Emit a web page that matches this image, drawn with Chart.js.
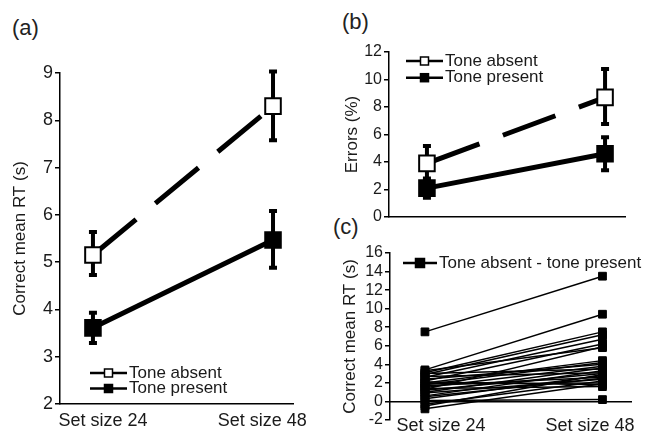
<!DOCTYPE html>
<html>
<head>
<meta charset="utf-8">
<script src="https://cdn.jsdelivr.net/npm/chart.js@4"></script>
<style>
  body { margin: 0; background: #fff; }
  #wrap { position: relative; width: 652px; height: 433px; font-family: 'Liberation Sans', Arial, sans-serif; color: #222; }
  .panel { position: absolute; }
  .tag { position: absolute; font-size: 22px; line-height: 24px; }
</style>
</head>
<body>
<div id="wrap">
  <div class="tag" style="left:12px;top:16px">(a)</div>
  <div class="tag" style="left:342px;top:10px">(b)</div>
  <div class="tag" style="left:333px;top:215px">(c)</div>
  <div class="panel" style="left:0;top:0"><canvas id="chartA" width="330" height="433"></canvas></div>
  <div class="panel" style="left:330px;top:0"><canvas id="chartB" width="322" height="230"></canvas></div>
  <div class="panel" style="left:330px;top:220px"><canvas id="chartC" width="322" height="213"></canvas></div>
</div>
<script>
// categories
const setSizes = ['Set size 24', 'Set size 48'];
const xPos = [0, 1];

// (a) correct mean RT (s)
const rtAbsent = [5.15, 8.3];
const rtAbsentLow = [4.73, 7.58];
const rtAbsentHigh = [5.64, 9.03];
const rtPresent = [3.61, 5.47];
const rtPresentLow = [3.29, 4.88];
const rtPresentHigh = [3.93, 6.08];

// (b) errors (%)
const errAbsent = [3.9, 8.7];
const errAbsentLow = [2.65, 6.76];
const errAbsentHigh = [5.16, 10.76];
const errPresent = [2.1, 4.6];
const errPresentLow = [1.4, 3.4];
const errPresentHigh = [2.8, 5.8];

// (c) per subject difference, tone absent - tone present (s)
const diff24 = [7.5, 3.4, 3.1, 2.9, 2.6, 3.3, 2.2, 1.3, 2.0, 1.8, 2.4, 1.5, 1.0, 0.6, 2.7, 1.2, 0.3, 1.7, 0.9, -0.3, -0.8, 2.1, 1.4, 0.1, 3.0, -0.5, 0.5, 1.9];
const diff48 = [13.5, 9.4, 7.5, 7.2, 6.7, 5.8, 6.2, 5.9, 4.4, 4.2, 4.0, 3.8, 3.6, 3.3, 3.1, 3.0, 2.8, 2.6, 2.4, 2.2, 1.9, 1.8, 1.6, 0.2, 3.5, 2.9, 2.5, 2.0];
const diffLabel = 'Tone absent - tone present';

const fontFamily = "'Liberation Sans', Arial, sans-serif";
const ink = '#1a1a1a';

const errorBars = {
  id: 'errorBars',
  beforeDatasetsDraw(chart) {
    const { ctx, scales: { x, y } } = chart;
    chart.data.datasets.forEach(ds => {
      if (!ds.errLow) return;
      ctx.save();
      ctx.strokeStyle = '#000';
      ctx.lineWidth = 4;
      ds.data.forEach((p, i) => {
        const px = x.getPixelForValue(p.x);
        const lo = y.getPixelForValue(ds.errLow[i]);
        const hi = y.getPixelForValue(ds.errHigh[i]);
        ctx.beginPath();
        ctx.moveTo(px, lo); ctx.lineTo(px, hi);
        ctx.moveTo(px - 4, lo); ctx.lineTo(px + 4, lo);
        ctx.moveTo(px - 4, hi); ctx.lineTo(px + 4, hi);
        ctx.stroke();
      });
      ctx.restore();
    });
  }
};

const panelLegend = {
  id: 'panelLegend',
  afterDraw(chart, args, opts) {
    if (!opts.items) return;
    const ctx = chart.ctx;
    ctx.save();
    opts.items.forEach((it, i) => {
      const y = opts.y + i * opts.rowHeight;
      const s = opts.markerSize;
      const mx = opts.x + opts.lineLength / 2;
      ctx.strokeStyle = '#000';
      ctx.lineWidth = opts.lineWidth;
      ctx.beginPath();
      ctx.moveTo(opts.x, y); ctx.lineTo(opts.x + opts.lineLength, y);
      ctx.stroke();
      ctx.fillStyle = it.fill;
      ctx.fillRect(mx - s / 2, y - s / 2, s, s);
      ctx.lineWidth = 1.5;
      ctx.strokeRect(mx - s / 2, y - s / 2, s, s);
      ctx.fillStyle = ink;
      ctx.font = '17px ' + fontFamily;
      ctx.textBaseline = 'middle';
      ctx.fillText(it.text, opts.x + opts.lineLength + 2, y);
    });
    ctx.restore();
  }
};

function points(values) {
  return xPos.map((x, i) => ({ x, y: values[i] }));
}

function yAxis(min, max, step, title, width, titlePad, tickSize) {
  return {
    min, max,
    ticks: { stepSize: step, autoSkip: false, font: { family: fontFamily, size: tickSize }, color: ink, padding: 2 },
    grid: { drawOnChartArea: false, tickLength: 5, color: '#000', lineWidth: 1.5 },
    border: { color: '#000', width: 1.5 },
    title: { display: true, text: title, color: ink, font: { family: fontFamily, size: 17 }, padding: { top: titlePad, bottom: 0 } },
    afterFit: a => { a.width = width; }
  };
}

function xAxis(min, max, tickVals, showLabels, height, pad, extra) {
  return Object.assign({
    type: 'linear', min, max,
    afterBuildTicks: a => { a.ticks = tickVals.map(value => ({ value })); },
    ticks: {
      display: showLabels, autoSkip: false, maxRotation: 0, padding: pad,
      font: { family: fontFamily, size: 18 }, color: ink,
      callback: (v, i) => setSizes[i]
    },
    grid: { drawOnChartArea: false, drawTicks: false },
    border: { color: '#000', width: 1.5 },
    afterFit: a => { a.height = height; }
  }, extra || {});
}

function pairSets(absent, absentLow, absentHigh, present, presentLow, presentHigh) {
  return [
    {
      label: 'Tone absent', data: points(absent), errLow: absentLow, errHigh: absentHigh,
      borderColor: '#000', borderWidth: 5, borderDash: [56, 25],
      pointStyle: 'rect', pointRadius: 11, pointBackgroundColor: '#fff', pointBorderColor: '#000', pointBorderWidth: 2
    },
    {
      label: 'Tone present', data: points(present), errLow: presentLow, errHigh: presentHigh,
      borderColor: '#000', borderWidth: 5,
      pointStyle: 'rect', pointRadius: 11, pointBackgroundColor: '#000', pointBorderColor: '#000', pointBorderWidth: 2
    }
  ];
}

const baseOpts = { responsive: false, animation: false, events: [] };

new Chart(document.getElementById('chartA'), {
  type: 'line',
  data: { datasets: pairSets(rtAbsent, rtAbsentLow, rtAbsentHigh, rtPresent, rtPresentLow, rtPresentHigh) },
  options: Object.assign({}, baseOpts, {
    layout: { padding: { left: 0, top: 73, right: 37, bottom: 0 } },
    scales: {
      x: xAxis(-0.183, 1.111, [0.056, 0.94], true, 29, 6),
      y: yAxis(2, 9, 1, 'Correct mean RT (s)', 60, 10, 18)
    },
    plugins: {
      legend: { display: false }, tooltip: { enabled: false },
      panelLegend: {
        x: 90, y: 373, rowHeight: 15.5, lineLength: 37, lineWidth: 2.5, markerSize: 8,
        items: [{ text: 'Tone absent', fill: '#fff' }, { text: 'Tone present', fill: '#000' }]
      }
    }
  }),
  plugins: [errorBars, panelLegend]
});

new Chart(document.getElementById('chartB'), {
  type: 'line',
  data: { datasets: pairSets(errAbsent, errAbsentLow, errAbsentHigh, errPresent, errPresentLow, errPresentHigh) },
  options: Object.assign({}, baseOpts, {
    layout: { padding: { left: 0, top: 52, right: 27, bottom: 0 } },
    scales: {
      x: xAxis(-0.213, 1.112, [0, 1], false, 13, 6),
      y: yAxis(0, 12, 2, 'Errors (%)', 59, 12, 16)
    },
    plugins: {
      legend: { display: false }, tooltip: { enabled: false },
      panelLegend: {
        x: 76, y: 61, rowHeight: 16.7, lineLength: 37, lineWidth: 2.5, markerSize: 8,
        items: [{ text: 'Tone absent', fill: '#fff' }, { text: 'Tone present', fill: '#000' }]
      }
    }
  }),
  plugins: [errorBars, panelLegend]
});

new Chart(document.getElementById('chartC'), {
  type: 'line',
  data: {
    datasets: diff24.map((v, i) => ({
      label: diffLabel, data: points([v, diff48[i]]),
      borderColor: '#000', borderWidth: 1.5,
      pointStyle: 'rect', pointRadius: 5.5, pointBackgroundColor: '#000', pointBorderColor: '#000', pointBorderWidth: 1
    }))
  },
  options: Object.assign({}, baseOpts, {
    layout: { padding: { left: 0, top: 33, right: 20, bottom: 13 } },
    scales: {
      x: xAxis(-0.197, 1.163, [0.09, 0.93], true, 0, 14, { position: { y: 0 } }),
      y: yAxis(-2, 16, 2, 'Correct mean RT (s)', 60, 10, 16)
    },
    plugins: {
      legend: { display: false }, tooltip: { enabled: false },
      panelLegend: {
        x: 73, y: 43, rowHeight: 16, lineLength: 34, lineWidth: 2.5, markerSize: 9,
        items: [{ text: diffLabel, fill: '#000' }]
      }
    }
  }),
  plugins: [panelLegend]
});
</script>
</body>
</html>
